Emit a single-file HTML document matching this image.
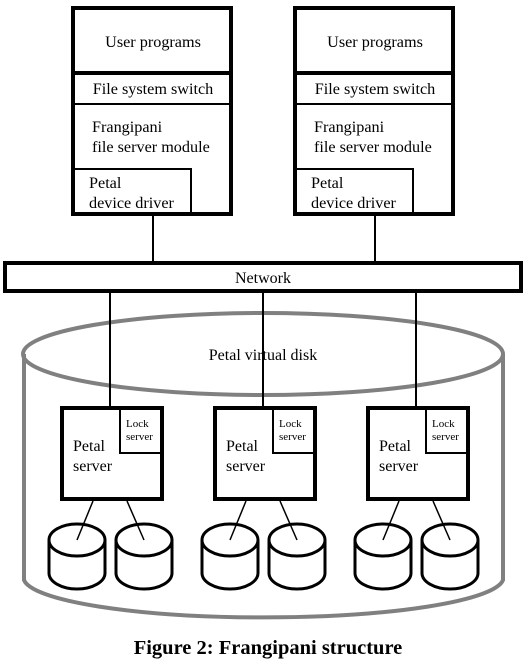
<!DOCTYPE html>
<html><head><style>
html,body{margin:0;padding:0;background:#fff;}
svg{display:block;}
text{font-family:"Liberation Serif",serif;fill:#000;}
</style></head><body>
<svg width="528" height="668" viewBox="0 0 528 668" xmlns="http://www.w3.org/2000/svg">
<g fill="none" stroke="#808080" stroke-width="4">
<ellipse cx="263" cy="354" rx="240" ry="41"/>
<path d="M24 354 L24 580 A240 40 0 0 0 503 580 L503 354"/>
</g>
<text x="263" y="360" font-size="16" text-anchor="middle">Petal virtual disk</text>

<g id="c1">
<rect x="73" y="8" width="158" height="206" fill="#fff" stroke="#000" stroke-width="4"/>
<line x1="73" y1="73" x2="231" y2="73" stroke="#000" stroke-width="4"/>
<line x1="73" y1="104" x2="231" y2="104" stroke="#000" stroke-width="2"/>
<path d="M74 169 L191 169 L191 213" fill="none" stroke="#000" stroke-width="2"/>
<text x="153" y="47" font-size="16.2" text-anchor="middle">User programs</text>
<text x="153" y="94" font-size="16.2" text-anchor="middle">File system switch</text>
<text x="92" y="132" font-size="16.2">Frangipani</text>
<text x="92" y="152" font-size="16.2">file server module</text>
<text x="89" y="188" font-size="16.2">Petal</text>
<text x="89" y="208" font-size="16.2">device driver</text>
<line x1="153" y1="216" x2="153" y2="262" stroke="#000" stroke-width="2"/>
</g>
<use href="#c1" x="222"/>

<rect x="5" y="263" width="516" height="28" fill="#fff" stroke="#000" stroke-width="4"/>
<text x="263" y="283" font-size="16" text-anchor="middle">Network</text>
<g stroke="#000" stroke-width="2">
<line x1="110" y1="293" x2="110" y2="406"/>
<line x1="263" y1="293" x2="263" y2="406"/>
<line x1="416" y1="293" x2="416" y2="406"/>
</g>

<g id="s1">
<rect x="62" y="408" width="100" height="91" fill="#fff" stroke="#000" stroke-width="4"/>
<path d="M120 408 L120 453 L162 453" fill="none" stroke="#000" stroke-width="2"/>
<text x="126" y="427" font-size="11">Lock</text>
<text x="126" y="440" font-size="11">server</text>
<text x="73" y="451" font-size="16">Petal</text>
<text x="73" y="471" font-size="16">server</text>
<g fill="#fff" stroke="#000" stroke-width="3">
<path d="M49 540 L49 573 A28 16 0 0 0 105 573 L105 540"/>
<ellipse cx="77" cy="540" rx="28" ry="16"/>
<path d="M116 540 L116 573 A28 16 0 0 0 172 573 L172 540"/>
<ellipse cx="144" cy="540" rx="28" ry="16"/>
</g>
<line x1="93" y1="501" x2="77" y2="540" stroke="#000" stroke-width="1.5"/>
<line x1="127" y1="501" x2="144" y2="540" stroke="#000" stroke-width="1.5"/>
</g>
<use href="#s1" x="153"/>
<use href="#s1" x="306"/>

<text x="268" y="654" font-size="20.5" font-weight="bold" text-anchor="middle">Figure 2: Frangipani structure</text>
</svg>
</body></html>
